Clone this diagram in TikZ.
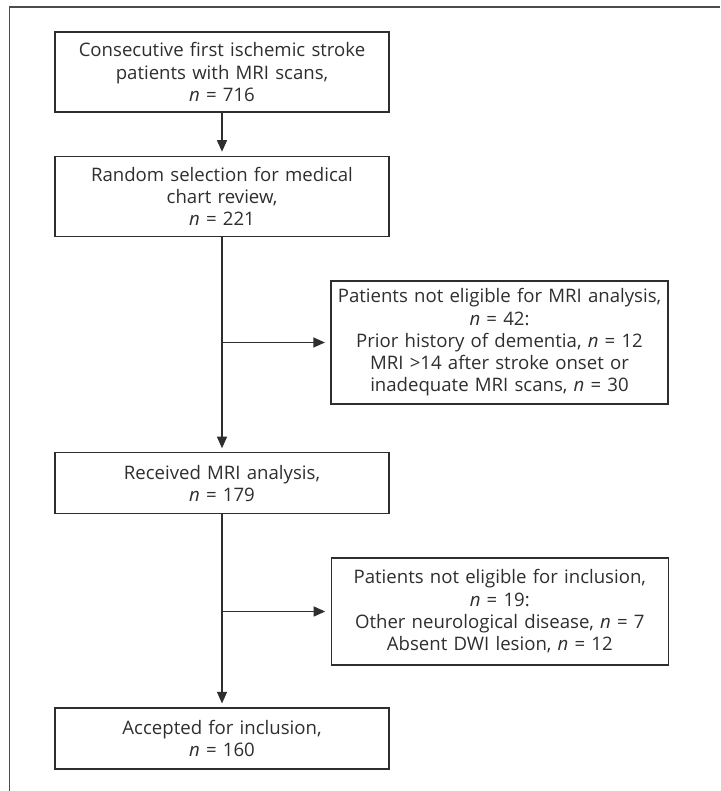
\documentclass[tikz,border=0pt]{standalone}
\usepackage{fontspec}
\setmainfont{Open Sans}
\usetikzlibrary{positioning,calc,arrows.meta}
\colorlet{inkC}{black!82}

\begin{document}
\begin{tikzpicture}
  [x=1pt,y=-1pt,
   mainBox/.style={rectangle,draw=inkC,line width=1.2pt,text=inkC,
     minimum width=334pt,text width=330pt,align=center,inner sep=0pt,
     font=\fontsize{18.6}{22.3}\selectfont},
   sideBox/.style={mainBox,minimum width=337pt,text width=335pt},
   flow/.style={line width=1.2pt,draw=inkC,shorten >=4pt,
     -{Triangle[length=11.5pt,width=10pt]}},
   branch/.style={flow,shorten >=5.5pt}]

  \useasboundingbox (0,0) rectangle (720,791);
  % outer frame, open at right and bottom
  \draw [line width=1.4pt,black!70] (9.5,791) -- (9.5,7) -- (720,7);

  \node[mainBox,minimum height=80pt] (start)    at (222,72)
    {Consecutive first ischemic stroke\\patients with MRI scans,\\\textit{n} = 716};
  \node[mainBox,minimum height=80pt] (review)   at (222,196.3)
    {Random selection for medical\\chart review,\\\textit{n} = 221};
  \node[sideBox,minimum height=123pt] (exclMRI) at (499.5,342.5)
    {Patients not eligible for MRI analysis,\\\textit{n} = 42:\\Prior history of dementia, \textit{n} = 12\\MRI >14 after stroke onset or\\inadequate MRI scans, \textit{n} = 30};
  \node[mainBox,minimum height=61pt] (mri)      at (222,483.3)
    {Received MRI analysis,\\\textit{n} = 179};
  \node[sideBox,minimum height=107pt] (exclInc) at (499.8,611.5)
    {Patients not eligible for inclusion,\\\textit{n} = 19:\\Other neurological disease, \textit{n} = 7\\Absent DWI lesion, \textit{n} = 12};
  \node[mainBox,minimum height=61pt] (accepted) at (222,738.5)
    {Accepted for inclusion,\\\textit{n} = 160};

  \draw [flow] (start) -- (review);
  \draw [flow] (review) -- (mri);
  \draw [branch] (review |- exclMRI) -- (exclMRI);
  \draw [flow] (mri) -- (accepted);
  \draw [branch] (mri |- exclInc) -- (exclInc);

\end{tikzpicture}
\end{document}
